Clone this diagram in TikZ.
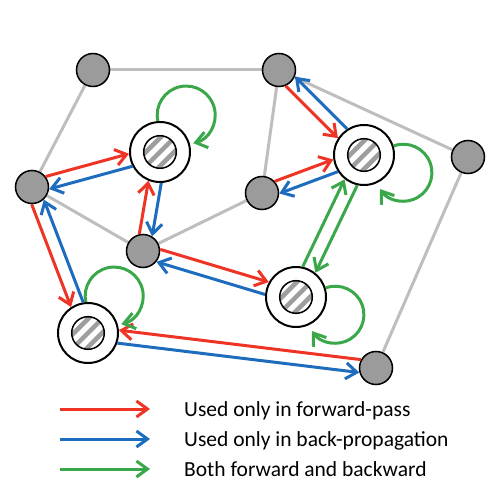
\documentclass[tikz,border=0pt]{standalone}
\usepackage{fontspec}
\setmainfont{Carlito}
\usetikzlibrary{arrows.meta,calc,backgrounds}
\definecolor{fred}{RGB}{238,52,36}
\definecolor{bblue}{RGB}{30,108,190}
\definecolor{bgreen}{RGB}{58,168,74}
\definecolor{edgegray}{RGB}{190,190,190}
\definecolor{nodegray}{RGB}{155,155,155}
\definecolor{stripegray}{RGB}{158,158,158}
\tikzset{
  link/.style={draw=edgegray, line width=3pt},
  gnode/.style={circle, draw=black, line width=1.5pt, fill=nodegray, minimum size=33pt, inner sep=0pt},
  hnode/.style={circle, draw=black, line width=2pt, fill=white, minimum size=60pt, inner sep=0pt,
    path picture={
      \coordinate (pc) at (path picture bounding box.center);
      \begin{scope}
        \clip (pc) circle (16.3pt);
        \foreach \k in {-2,...,2}
          \draw[draw=stripegray, line width=4.5pt] ([shift={(\k*7.07pt,-\k*7.07pt)}]pc) ++(-22pt,-22pt) -- ++(44pt,44pt);
      \end{scope}
      \draw[draw=black, line width=1.5pt] (pc) circle (16.3pt);
    }},
  fwd/.style={draw=fred, line width=3pt, ->},
  bwd/.style={draw=bblue, line width=3pt, ->},
  both/.style={draw=bgreen, line width=3pt, ->},
  fromg/.style={shorten <=16pt},
  fromh/.style={shorten <=30.3pt},
  tog/.style={shorten >=16pt},
  toh/.style={shorten >=30.3pt},
  legendtext/.style={anchor=base west, inner sep=0pt, font=\fontsize{21.5pt}{25pt}\selectfont},
}
\begin{document}
\begin{tikzpicture}[x=1pt, y=1pt, >={Straight Barb[length=11pt,width=16pt]}]
\useasboundingbox (0,0) rectangle (504,-503);
% gray nodes
\node[gnode] (G1) at (93,-70) {};
\node[gnode] (G2) at (279,-70) {};
\node[gnode] (G3) at (32,-187) {};
\node[gnode] (G4) at (143,-251) {};
\node[gnode] (G5) at (262,-193) {};
\node[gnode] (G6) at (468,-157) {};
\node[gnode] (G7) at (376,-368) {};
% hatched nodes
\node[hnode] (H1) at (160,-152) {};
\node[hnode] (H2) at (364,-155) {};
\node[hnode] (H3) at (296,-297) {};
\node[hnode] (H4) at (88,-333) {};
% gray links
\begin{scope}[on background layer]
\draw[link] (G1) -- (G2);
\draw[link] (G1) -- (G3);
\draw[link] (G2) -- (G5);
\draw[link] (G2) -- (G6);
\draw[link] (G3) -- (G4);
\draw[link] (G4) -- (G5);
\draw[link] (G6) -- (G7);
\end{scope}
% forward (red)
\draw[fwd, fromg, toh] ($(G3)!6.5pt!90:(H1)$) -- ($(H1)!6.5pt!-90:(G3)$);
\draw[fwd, fromg, toh] ($(G4)!6.5pt!90:(H1)$) -- ($(H1)!6.5pt!-90:(G4)$);
\draw[fwd, fromg, toh] ($(G3)!-6.5pt!90:(H4)$) -- ($(H4)!-6.5pt!-90:(G3)$);
\draw[fwd, fromg, toh] ($(G4)!6.5pt!90:(H3)$) -- ($(H3)!6.5pt!-90:(G4)$);
\draw[fwd, fromg, toh] ($(G7)!-6.5pt!90:(H4)$) -- ($(H4)!-6.5pt!-90:(G7)$);
\draw[fwd, fromg, toh] ($(G2)!-6.5pt!90:(H2)$) -- ($(H2)!-6.5pt!-90:(G2)$);
\draw[fwd, fromg, toh] ($(G5)!6.5pt!90:(H2)$) -- ($(H2)!6.5pt!-90:(G5)$);
% backward (blue)
\draw[bwd, fromh, tog] ($(H1)!6.5pt!90:(G3)$) -- ($(G3)!6.5pt!-90:(H1)$);
\draw[bwd, fromh, tog] ($(H1)!6.5pt!90:(G4)$) -- ($(G4)!6.5pt!-90:(H1)$);
\draw[bwd, fromh, tog] ($(H4)!-6.5pt!90:(G3)$) -- ($(G3)!-6.5pt!-90:(H4)$);
\draw[bwd, fromh, tog] ($(H3)!6.5pt!90:(G4)$) -- ($(G4)!6.5pt!-90:(H3)$);
\draw[bwd, fromh, tog] ($(H4)!-6.5pt!90:(G7)$) -- ($(G7)!-6.5pt!-90:(H4)$);
\draw[bwd, fromh, tog] ($(H2)!-6.5pt!90:(G2)$) -- ($(G2)!-6.5pt!-90:(H2)$);
\draw[bwd, fromh, tog] ($(H2)!6.5pt!90:(G5)$) -- ($(G5)!6.5pt!-90:(H2)$);
% both (green)
\draw[both, fromh, toh] ($(H3)!7pt!90:(H2)$) -- ($(H2)!7pt!-90:(H3)$);
\draw[both, fromh, toh] ($(H2)!7pt!90:(H3)$) -- ($(H3)!7pt!-90:(H2)$);
% self loops
\draw[both] (H1.94) arc[start angle=192, end angle=-76, radius=29pt];
\draw[both] (H4.94) arc[start angle=192, end angle=-76, radius=29pt];
\draw[both] (H2.17) arc[start angle=110, end angle=-145, radius=28.5pt];
\draw[both] (H3.17) arc[start angle=110, end angle=-145, radius=28.5pt];
% legend
\coordinate (L1a) at (60,-409); \coordinate (L1b) at (150,-409);
\coordinate (L2a) at (60,-439); \coordinate (L2b) at (150,-439);
\coordinate (L3a) at (60,-469); \coordinate (L3b) at (150,-469);
\draw[fwd] (L1a) -- (L1b);
\draw[bwd] (L2a) -- (L2b);
\draw[both] (L3a) -- (L3b);
\node[legendtext] (T1) at (184,-416) {Used only in forward-pass};
\node[legendtext] (T2) at (184,-446) {Used only in back-propagation};
\node[legendtext] (T3) at (184,-476) {Both forward and backward};
\end{tikzpicture}
\end{document}
